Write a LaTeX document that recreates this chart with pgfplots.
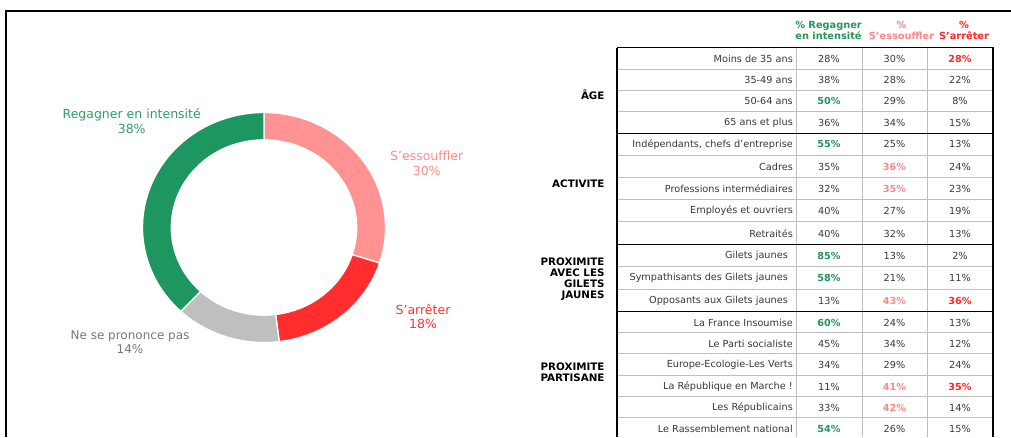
\documentclass[border=0pt]{standalone}
\usepackage{pgfplots}
\usepackage{pgfplotstable}
\pgfplotsset{compat=1.18}
\usepackage{fontspec}
\setmainfont{DejaVu Sans}

\definecolor{cGreen}{RGB}{30,150,95}
\definecolor{cPink}{RGB}{255,147,147}
\definecolor{cRed}{RGB}{255,45,45}
\definecolor{cGray}{RGB}{191,191,191}
\definecolor{tGreen}{RGB}{45,158,105}
\definecolor{tPink}{RGB}{255,140,140}
\definecolor{tRed}{RGB}{255,50,50}
\definecolor{tGray}{RGB}{120,120,120}
\definecolor{tabtext}{RGB}{55,55,55}
\definecolor{hGreen}{RGB}{35,150,90}
\definecolor{hPink}{RGB}{255,135,135}
\definecolor{hRed}{RGB}{255,40,40}
\definecolor{gridc}{RGB}{190,190,190}

% donut shares (%)
\def\vReg{38}
\def\vEss{30}
\def\vArr{18}
\def\vNsp{14}

\pgfplotstableread{
y lx label v1 h1 v2 h2 v3 h3
59 793 {Moins de 35 ans} 28 0 30 0 28 1
80 793 {35-49 ans} 38 0 28 0 22 0
101 793 {50-64 ans} 50 1 29 0 8 0
122.5 793 {65 ans et plus} 36 0 34 0 15 0
144.3 793 {Indépendants, chefs d’entreprise} 55 1 25 0 13 0
166.5 793 {Cadres} 35 0 36 1 24 0
188.8 793 {Professions intermédiaires} 32 0 35 1 23 0
211 793 {Employés et ouvriers} 40 0 27 0 19 0
233.5 793 {Retraités} 40 0 32 0 13 0
256 788 {Gilets jaunes} 85 1 13 0 2 0
278.3 788 {Sympathisants des Gilets jaunes} 58 1 21 0 11 0
300.7 788 {Opposants aux Gilets jaunes} 13 0 43 1 36 1
322.5 793 {La France Insoumise} 60 1 24 0 13 0
344 793 {Le Parti socialiste} 45 0 34 0 12 0
365 793 {Europe-Ecologie-Les Verts} 34 0 29 0 24 0
386.5 793 {La République en Marche !} 11 0 41 1 35 1
407.5 793 {Les Républicains} 33 0 42 1 14 0
428.5 793 {Le Rassemblement national} 54 1 26 0 15 0
}\tabdata

\newcommand\tabfont{\fontsize{9.7}{11}\selectfont}
\newcommand\headfont{\fontsize{9.8}{11.2}\selectfont\bfseries}
\newcommand\grpfont{\fontsize{10.3}{11}\selectfont\bfseries}
\newcommand\slice[3]{%
  \fill[#3, draw=white, line width=1.3pt, shift={(axis cs:264,227.5)}]
    (#1:121.5pt and 115pt) arc[start angle=#1, end angle=#2, x radius=121.5pt, y radius=115pt]
    -- (#2:92.7pt and 87.7pt) arc[start angle=#2, end angle=#1, x radius=92.7pt, y radius=87.7pt]
    -- cycle;}

\begin{document}
\begin{tikzpicture}
\pgfmathsetmacro\aA{90}
\pgfmathsetmacro\aB{\aA-3.6*\vEss}
\pgfmathsetmacro\aC{\aB-3.6*\vArr}
\pgfmathsetmacro\aD{\aC-3.6*\vNsp}
\pgfmathsetmacro\aE{\aD-3.6*\vReg}
\begin{axis}[
  width=1011pt, height=437pt, scale only axis,
  xmin=0, xmax=1011, ymin=0, ymax=437, y dir=reverse,
  hide axis, clip=true,
]
% frame
\draw[black, line width=2pt] (axis cs:5,10.5) -- (axis cs:1011,10.5);
\draw[black, line width=2pt] (axis cs:6,9.5) -- (axis cs:6,437);

% donut
\slice{\aA}{\aB}{cPink}
\slice{\aB}{\aC}{cRed}
\slice{\aC}{\aD}{cGray}
\slice{\aD}{\aE}{cGreen}

\node[align=center, text=tGreen, font=\fontsize{12.5}{14.5}\selectfont] at (axis cs:131.7,121) {Regagner en intensité\\\vReg\%};
\node[align=center, text=tPink, font=\fontsize{12.5}{14.5}\selectfont] at (axis cs:426.7,163.5) {S’essouffler\\\vEss\%};
\node[align=center, text=tRed, font=\fontsize{12.5}{14.5}\selectfont] at (axis cs:423,316.5) {S’arrêter\\\vArr\%};
\node[align=center, text=tGray, font=\fontsize{12}{14}\selectfont] at (axis cs:130,342) {Ne se prononce pas\\\vNsp\%};

% table grid
\pgfplotsinvokeforeach{69.5,90.5,111.7,155,177.3,199.3,221.7,266,289.3,332.7,353.3,375,396.7,417.3}{
  \draw[gridc, line width=1pt] (axis cs:617,#1) -- (axis cs:993,#1);
}
\pgfplotsinvokeforeach{796,862,927}{
  \draw[gridc, line width=1pt] (axis cs:#1,47.7) -- (axis cs:#1,437);
}
\pgfplotsinvokeforeach{47.7,133.3,244.3,311.7}{
  \draw[black, line width=1.3pt] (axis cs:616.5,#1) -- (axis cs:993.5,#1);
}
\draw[black, line width=1.3pt] (axis cs:617,47.7) -- (axis cs:617,437);
\draw[black, line width=1.3pt] (axis cs:993,47.7) -- (axis cs:993,437);

% headers
\node[align=center, text=hGreen, font=\headfont] at (axis cs:828.5,30.5) {\% Regagner\\en intensité};
\node[align=center, text=hPink, font=\headfont] at (axis cs:901.5,30.5) {\%\\S’essouffler};
\node[align=center, text=hRed, font=\headfont] at (axis cs:964,30.5) {\%\\S’arrêter};

% group labels
\node[align=right, anchor=east, font=\grpfont] at (axis cs:608,94.5) {ÂGE};
\node[align=right, anchor=east, font=\grpfont] at (axis cs:608,183.3) {ACTIVITE};
\node[align=right, anchor=east, font=\grpfont] at (axis cs:608,279.5) {PROXIMITE\\AVEC LES\\GILETS\\JAUNES};
\node[align=right, anchor=east, font=\grpfont] at (axis cs:608,372) {PROXIMITE\\PARTISANE};

% row labels
\addplot[draw=none, point meta=explicit symbolic, nodes near coords,
  every node near coord/.append style={anchor=east, font=\tabfont, text=tabtext, inner sep=0pt}]
  table[x=lx, y=y, meta=label] {\tabdata};

% values
\addplot[draw=none, point meta=explicit symbolic,
  visualization depends on={\thisrow{h1} \as \hv},
  nodes near coords={\ifdim\hv pt>0.5pt \bfseries\color{hGreen}\fi\pgfplotspointmeta\%},
  every node near coord/.append style={anchor=center, font=\tabfont, text=tabtext, inner sep=0pt}]
  table[x expr=829, y=y, meta=v1] {\tabdata};
\addplot[draw=none, point meta=explicit symbolic,
  visualization depends on={\thisrow{h2} \as \hv},
  nodes near coords={\ifdim\hv pt>0.5pt \bfseries\color{hPink}\fi\pgfplotspointmeta\%},
  every node near coord/.append style={anchor=center, font=\tabfont, text=tabtext, inner sep=0pt}]
  table[x expr=894.5, y=y, meta=v2] {\tabdata};
\addplot[draw=none, point meta=explicit symbolic,
  visualization depends on={\thisrow{h3} \as \hv},
  nodes near coords={\ifdim\hv pt>0.5pt \bfseries\color{hRed}\fi\pgfplotspointmeta\%},
  every node near coord/.append style={anchor=center, font=\tabfont, text=tabtext, inner sep=0pt}]
  table[x expr=960, y=y, meta=v3] {\tabdata};
\end{axis}
\pgfresetboundingbox
\useasboundingbox (current axis.south west) rectangle (current axis.north east);
\end{tikzpicture}
\end{document}
